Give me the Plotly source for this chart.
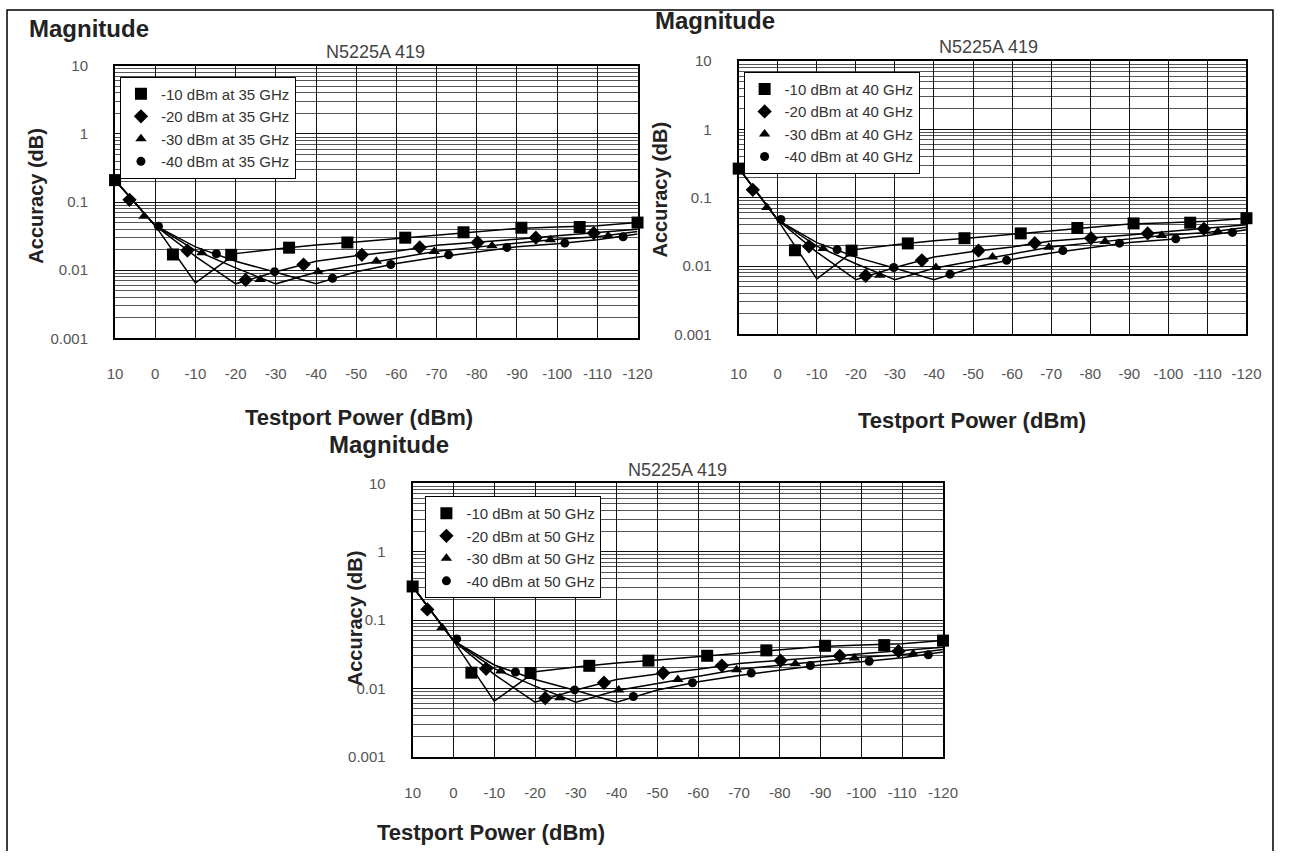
import plotly.graph_objects as go

# The page keeps the browser's default 8px body margin, so the figure is made
# 16px smaller than the window and reference pixel positions are offset by 8.
PAGE_W, PAGE_H = 1303, 867
OFF = 8
W, H = PAGE_W - 2 * OFF, PAGE_H - 2 * OFF

# ---------------- data ----------------
X_LINE = [10, 0, -10, -20, -30, -40, -50, -60, -70, -80, -90, -100, -110, -120]
X_TICK_TEXT = ["10", "0", "-10", "-20", "-30", "-40", "-50", "-60", "-70", "-80",
               "-90", "-100", "-110", "-120"]
Y_TICKS = [0.001, 0.01, 0.1, 1, 10]
Y_TICK_TEXT = ["0.001", "0.01", "0.1", "1", "10"]

# line values from -10 dBm onwards (same look on all three charts)
LINE_M10_TAIL = [0.0065, 0.0175, 0.0205, 0.0235, 0.026, 0.029, 0.033, 0.037, 0.041, 0.043, 0.045, 0.05]
LINE_M20_TAIL = [0.016, 0.0063, 0.0095, 0.0135, 0.0163, 0.019, 0.0232, 0.0255, 0.0285, 0.032, 0.0355, 0.04]
LINE_M30_TAIL = [0.0195, 0.0108, 0.0063, 0.0093, 0.0118, 0.015, 0.019, 0.0218, 0.025, 0.0285, 0.031, 0.037]
LINE_M40_TAIL = [0.022, 0.0135, 0.0093, 0.0063, 0.0095, 0.0125, 0.0155, 0.0185, 0.022, 0.0245, 0.028, 0.034]

# line values at +10 dBm and 0 dBm per chart
START_35 = [0.21, 0.045]
START_40 = [0.27, 0.047]
START_50 = [0.31, 0.05]

# marker positions (dBm) per series
SQ_X = [10, -4.4, -18.9, -33.3, -47.8, -62.2, -76.7, -91.1, -105.6, -120]
DI_X = [6.4, -8.0, -22.5, -36.9, -51.4, -65.8, -80.2, -94.7, -109.1]
TR_X = [2.8, -11.6, -26.1, -40.5, -55.0, -69.4, -83.8, -98.3, -112.7]
CI_X = [-0.8, -15.2, -29.7, -44.1, -58.6, -73.0, -87.5, -101.9, -116.4]

# marker values after the first point
SQ_Y_TAIL = [0.017, 0.0168, 0.0214, 0.0255, 0.030, 0.036, 0.042, 0.043, 0.05]
DI_Y_TAIL = [0.0194, 0.0072, 0.0121, 0.0168, 0.0216, 0.0255, 0.030, 0.035]
TR_Y_TAIL = [0.018, 0.0073, 0.0095, 0.0135, 0.0188, 0.0229, 0.0279, 0.032]
CI_Y_TAIL = [0.0174, 0.0095, 0.0076, 0.0121, 0.0168, 0.0216, 0.025, 0.031]

# first marker value of each series (square, diamond, triangle, circle) per chart
FIRST_MARKERS_35 = [0.21, 0.108, 0.062, 0.044]
FIRST_MARKERS_40 = [0.266, 0.13, 0.072, 0.048]
FIRST_MARKERS_50 = [0.31, 0.143, 0.078, 0.053]

POWERS = ["-10", "-20", "-30", "-40"]
TITLE = "N5225A 419"
SYMBOLS = ["square", "diamond", "triangle-up", "circle"]
MSIZES = [12, 11, 10, 9]

# ---------------- layout geometry (reference pixels) ----------------
charts = [
    dict(freq="35", start=START_35, first=FIRST_MARKERS_35,
         box=(117, 649, 66, 344), legend=(122, 77), xstand=21,
         mag=(27, 28), title=(382, 52), xtitle=(365, 425), ytitle=(37, 198)),
    dict(freq="40", start=START_40, first=FIRST_MARKERS_40,
         box=(752, 1269, 61, 340), legend=(757, 72), xstand=25,
         mag=(665, 20), title=(1006, 47), xtitle=(990, 428), ytitle=(672, 192)),
    dict(freq="50", start=START_50, first=FIRST_MARKERS_50,
         box=(420, 960, 492, 771), legend=(433, 505), xstand=21,
         mag=(333, 452), title=(690, 478), xtitle=(500, 848), ytitle=(361, 630)),
]

FONT = "Liberation Sans, Arial, sans-serif"

def px(x):
    return (x - OFF) / W

def py(y):
    return 1 - (y - OFF) / H

fig = go.Figure()
annotations = []
legend_names = ["legend", "legend2", "legend3"]

minor_vals = [k * 10 ** e for e in range(-3, 1) for k in range(2, 10)]

for i, c in enumerate(charts):
    sfx = "" if i == 0 else str(i + 1)
    xa, ya = "x" + sfx, "y" + sfx
    lines = [
        c["start"] + LINE_M10_TAIL,
        c["start"] + LINE_M20_TAIL,
        c["start"] + LINE_M30_TAIL,
        c["start"] + LINE_M40_TAIL,
    ]
    mx = [SQ_X, DI_X, TR_X, CI_X]
    my = [
        [c["first"][0]] + SQ_Y_TAIL,
        [c["first"][1]] + DI_Y_TAIL,
        [c["first"][2]] + TR_Y_TAIL,
        [c["first"][3]] + CI_Y_TAIL,
    ]
    for s in range(4):
        fig.add_trace(go.Scatter(
            x=X_LINE, y=lines[s], mode="lines", xaxis=xa, yaxis=ya,
            line=dict(color="black", width=1.5), showlegend=False,
            hoverinfo="skip", cliponaxis=False))
    for s in range(4):
        fig.add_trace(go.Scatter(
            x=mx[s], y=my[s], mode="markers", xaxis=xa, yaxis=ya,
            marker=dict(symbol=SYMBOLS[s], size=MSIZES[s], color="black",
                        line=dict(width=0)),
            name=f"{POWERS[s]} dBm at {c['freq']} GHz",
            legend=legend_names[i], cliponaxis=False))

    x0, x1, y0, y1 = c["box"]
    fig.update_layout(**{
        "xaxis" + sfx: dict(
            domain=[px(x0), px(x1)], range=[10, -120], anchor=ya,
            tickvals=X_LINE, ticktext=X_TICK_TEXT, showgrid=True,
            gridcolor="#111", gridwidth=1.2, zeroline=False,
            showline=True, linecolor="black", linewidth=2, mirror=True,
            ticks="", ticklabelstandoff=c["xstand"],
            tickfont=dict(family=FONT, size=15, color="#555")),
        "yaxis" + sfx: dict(
            domain=[py(y1), py(y0)], type="log", range=[-3, 1], anchor=xa,
            tickvals=Y_TICKS, ticktext=Y_TICK_TEXT, showgrid=True,
            gridcolor="#111", gridwidth=1.3, zeroline=False,
            showline=True, linecolor="black", linewidth=2, mirror=True,
            ticks="", ticklabelstandoff=22,
            tickfont=dict(family=FONT, size=15, color="#555")),
        legend_names[i]: dict(
            x=px(c["legend"][0]), y=py(c["legend"][1]), xanchor="left", yanchor="top",
            xref="paper", yref="paper",
            bgcolor="white", bordercolor="black", borderwidth=1,
            font=dict(family=FONT, size=15, color="#333"),
            itemwidth=30, tracegroupgap=0, entrywidth=165, entrywidthmode="pixels"),
    })
    fig.update_layout(**{"yaxis" + sfx: dict(
        minor=dict(tickvals=minor_vals, showgrid=True, gridcolor="#555", gridwidth=1.1))})

    common = dict(xref="paper", yref="paper", showarrow=False, yanchor="middle")
    annotations += [
        dict(text="<b>Magnitude</b>", x=px(c["mag"][0]), y=py(c["mag"][1]),
             xanchor="left", font=dict(family=FONT, size=24, color="#222"), **common),
        dict(text=TITLE, x=px(c["title"][0]), y=py(c["title"][1]),
             xanchor="center", font=dict(family=FONT, size=18, color="#444"), **common),
        dict(text="<b>Testport Power (dBm)</b>", x=px(c["xtitle"][0]), y=py(c["xtitle"][1]),
             xanchor="center", font=dict(family=FONT, size=22, color="#222"), **common),
        dict(text="<b>Accuracy (dB)</b>", x=px(c["ytitle"][0]), y=py(c["ytitle"][1]),
             xanchor="center", textangle=-90,
             font=dict(family=FONT, size=20, color="#222"), **common),
    ]

fig.update_layout(
    width=W, height=H, margin=dict(l=0, r=0, t=0, b=0),
    paper_bgcolor="white", plot_bgcolor="white",
    annotations=annotations,
    shapes=[dict(type="rect", xref="paper", yref="paper",
                 x0=px(7), x1=px(1296), y0=py(880), y1=py(9),
                 line=dict(color="black", width=1.5))],
    showlegend=True,
)

fig.write_html("out.html")
